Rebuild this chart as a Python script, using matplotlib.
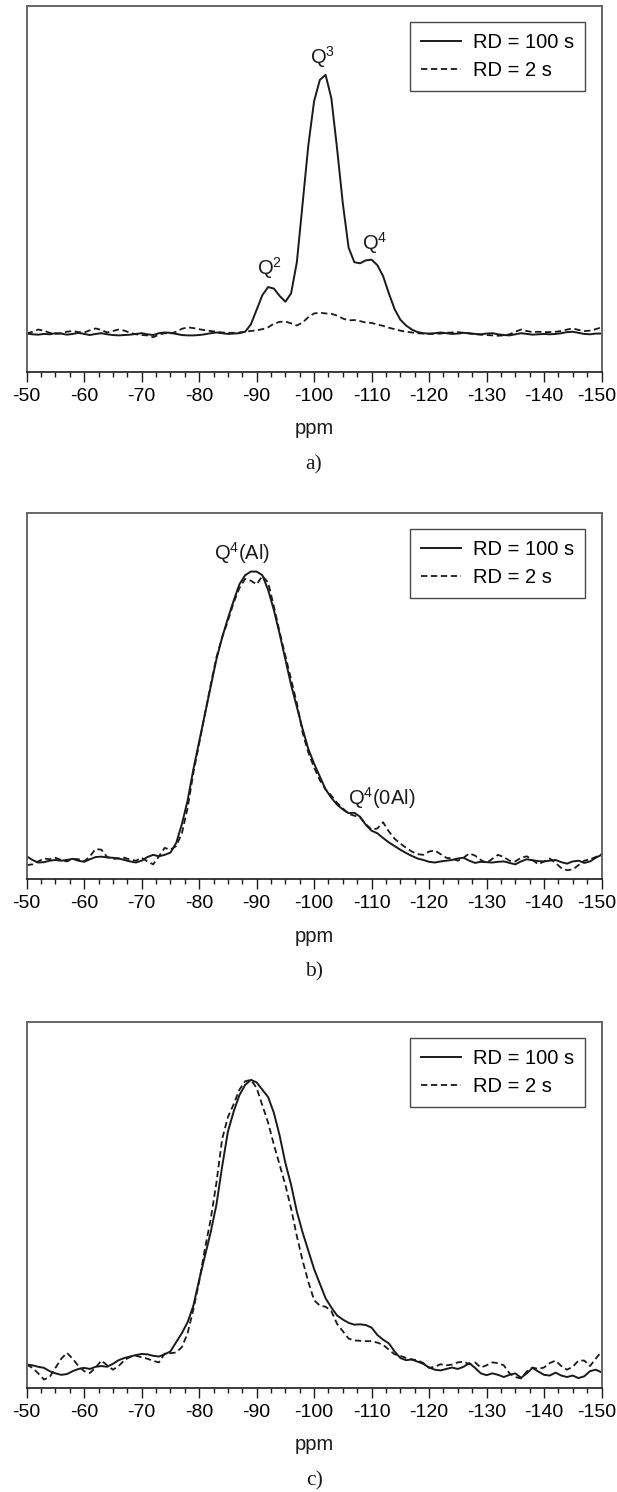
import numpy as np
import matplotlib
matplotlib.use("Agg")
import matplotlib.pyplot as plt
from matplotlib.ticker import MultipleLocator
from matplotlib.transforms import ScaledTranslation

plt.rcParams['font.family'] = ['Liberation Sans', 'DejaVu Sans']
plt.rcParams['mathtext.fontset'] = 'custom'
plt.rcParams['mathtext.rm'] = 'Liberation Sans'
plt.rcParams['mathtext.it'] = 'Liberation Sans'
plt.rcParams['axes.unicode_minus'] = False

# ---------------- data ----------------
ppm = np.arange(-50, -151, -1)  # chemical shift grid (ppm)

tick_values = [-50, -60, -70, -80, -90, -100, -110, -120, -130, -140, -150]
tick_labels = ["-50", "-60", "-70", "-80", "-90", "-100", "-110", "-120", "-130", "-140", "-150"]
series_labels = ["RD = 100 s", "RD = 2 s"]
panel_letters = ["a)", "b)", "c)"]

a_rd100 = [0.105, 0.103, 0.102, 0.104, 0.103, 0.106, 0.105, 0.102, 0.104, 0.107,
           0.104, 0.101, 0.104, 0.106, 0.103, 0.101, 0.100, 0.101, 0.102, 0.104,
           0.106, 0.103, 0.101, 0.106, 0.108, 0.107, 0.104, 0.101, 0.100, 0.100,
           0.101, 0.103, 0.106, 0.108, 0.106, 0.104, 0.105, 0.106, 0.110, 0.130,
           0.170, 0.210, 0.232, 0.228, 0.208, 0.192, 0.215, 0.300, 0.460, 0.620,
           0.740, 0.798, 0.812, 0.748, 0.610, 0.460, 0.340, 0.300, 0.297, 0.305,
           0.307, 0.292, 0.262, 0.215, 0.172, 0.143, 0.127, 0.116, 0.109, 0.106,
           0.105, 0.106, 0.108, 0.106, 0.104, 0.105, 0.107, 0.106, 0.104, 0.103,
           0.105, 0.106, 0.103, 0.101, 0.100, 0.103, 0.106, 0.104, 0.102, 0.103,
           0.104, 0.103, 0.104, 0.106, 0.109, 0.110, 0.107, 0.104, 0.103, 0.105,
           0.105]
a_rd2 = [0.105, 0.110, 0.116, 0.113, 0.107, 0.104, 0.106, 0.110, 0.112, 0.109,
         0.108, 0.114, 0.119, 0.115, 0.108, 0.112, 0.116, 0.113, 0.107, 0.103,
         0.101, 0.100, 0.095, 0.102, 0.106, 0.105, 0.110, 0.118, 0.122, 0.120,
         0.117, 0.114, 0.112, 0.110, 0.108, 0.107, 0.107, 0.108, 0.110, 0.112,
         0.114, 0.117, 0.122, 0.132, 0.137, 0.138, 0.133, 0.127, 0.135, 0.150,
         0.160, 0.162, 0.160, 0.159, 0.154, 0.146, 0.141, 0.142, 0.139, 0.135,
         0.134, 0.130, 0.126, 0.121, 0.117, 0.113, 0.110, 0.108, 0.106, 0.105,
         0.104, 0.104, 0.105, 0.107, 0.108, 0.109, 0.107, 0.105, 0.103, 0.102,
         0.101, 0.100, 0.099, 0.100, 0.103, 0.110, 0.116, 0.112, 0.109, 0.110,
         0.109, 0.109, 0.110, 0.112, 0.116, 0.119, 0.115, 0.112, 0.113, 0.117,
         0.122]

b_rd100 = [0.062, 0.052, 0.045, 0.046, 0.050, 0.052, 0.050, 0.052, 0.055, 0.050,
           0.047, 0.054, 0.060, 0.061, 0.059, 0.058, 0.056, 0.052, 0.048, 0.045,
           0.050, 0.060, 0.066, 0.062, 0.066, 0.072, 0.098, 0.150, 0.215, 0.300,
           0.375, 0.450, 0.525, 0.600, 0.660, 0.712, 0.760, 0.805, 0.830, 0.840,
           0.840, 0.830, 0.790, 0.735, 0.670, 0.600, 0.530, 0.470, 0.410, 0.355,
           0.315, 0.280, 0.245, 0.222, 0.203, 0.190, 0.180, 0.181, 0.170, 0.148,
           0.132, 0.125, 0.112, 0.100, 0.090, 0.080, 0.071, 0.063, 0.056, 0.052,
           0.047, 0.045, 0.048, 0.050, 0.052, 0.056, 0.058, 0.050, 0.044, 0.047,
           0.046, 0.045, 0.047, 0.048, 0.044, 0.040, 0.048, 0.054, 0.051, 0.049,
           0.048, 0.050, 0.052, 0.046, 0.042, 0.048, 0.050, 0.044, 0.048, 0.058,
           0.066]
b_rd2 = [0.038, 0.040, 0.048, 0.056, 0.054, 0.058, 0.052, 0.048, 0.055, 0.054,
         0.048, 0.062, 0.082, 0.080, 0.060, 0.055, 0.056, 0.058, 0.053, 0.050,
         0.058, 0.048, 0.040, 0.062, 0.085, 0.080, 0.090, 0.125, 0.195, 0.290,
         0.370, 0.450, 0.530, 0.605, 0.660, 0.705, 0.755, 0.795, 0.820, 0.815,
         0.805, 0.828, 0.810, 0.745, 0.675, 0.610, 0.545, 0.480, 0.400, 0.345,
         0.305, 0.270, 0.245, 0.228, 0.208, 0.193, 0.178, 0.173, 0.168, 0.150,
         0.135, 0.138, 0.155, 0.130, 0.110, 0.097, 0.085, 0.075, 0.068, 0.066,
         0.075, 0.078, 0.068, 0.058, 0.056, 0.050, 0.058, 0.070, 0.064, 0.052,
         0.044, 0.055, 0.066, 0.060, 0.050, 0.048, 0.058, 0.062, 0.052, 0.040,
         0.048, 0.056, 0.044, 0.030, 0.024, 0.026, 0.038, 0.050, 0.054, 0.060,
         0.068]

c_rd100 = [0.064, 0.062, 0.058, 0.055, 0.046, 0.040, 0.036, 0.038, 0.046, 0.052,
           0.055, 0.052, 0.058, 0.060, 0.058, 0.066, 0.076, 0.082, 0.086, 0.090,
           0.093, 0.092, 0.088, 0.086, 0.092, 0.100, 0.125, 0.150, 0.180, 0.225,
           0.295, 0.360, 0.425, 0.500, 0.605, 0.700, 0.755, 0.800, 0.828, 0.842,
           0.835, 0.815, 0.795, 0.752, 0.690, 0.615, 0.555, 0.482, 0.425, 0.375,
           0.325, 0.285, 0.245, 0.220, 0.198, 0.187, 0.178, 0.173, 0.174, 0.172,
           0.165, 0.145, 0.132, 0.122, 0.100, 0.082, 0.076, 0.078, 0.072, 0.066,
           0.056, 0.050, 0.048, 0.052, 0.056, 0.052, 0.058, 0.068, 0.055, 0.040,
           0.035, 0.040, 0.036, 0.030, 0.036, 0.040, 0.028, 0.040, 0.055, 0.045,
           0.036, 0.034, 0.042, 0.034, 0.030, 0.034, 0.027, 0.032, 0.046, 0.050,
           0.043]
c_rd2 = [0.064, 0.055, 0.040, 0.023, 0.030, 0.055, 0.080, 0.096, 0.080, 0.060,
         0.046, 0.041, 0.056, 0.075, 0.062, 0.050, 0.060, 0.076, 0.085, 0.088,
         0.084, 0.080, 0.074, 0.070, 0.094, 0.095, 0.097, 0.112, 0.150, 0.215,
         0.290, 0.380, 0.460, 0.560, 0.680, 0.740, 0.775, 0.815, 0.838, 0.842,
         0.820, 0.772, 0.725, 0.665, 0.610, 0.555, 0.490, 0.415, 0.348, 0.290,
         0.240, 0.225, 0.222, 0.210, 0.175, 0.155, 0.135, 0.130, 0.129, 0.128,
         0.128, 0.124, 0.118, 0.105, 0.092, 0.088, 0.082, 0.078, 0.076, 0.068,
         0.055, 0.058, 0.065, 0.062, 0.064, 0.070, 0.072, 0.065, 0.070, 0.056,
         0.062, 0.070, 0.068, 0.062, 0.040, 0.030, 0.026, 0.045, 0.056, 0.052,
         0.056, 0.068, 0.075, 0.060, 0.050, 0.058, 0.075, 0.075, 0.060, 0.080,
         0.100]

# peak annotations: (text, ppm, intensity)
annot_a = [("Q$^{\\mathrm{2}}$", -92.3, 0.285),
           ("Q$^{\\mathrm{3}}$", -101.5, 0.86),
           ("Q$^{\\mathrm{4}}$", -110.5, 0.353)]
annot_b = [("Q$^{\\mathrm{4}}$(Al)", -87.5, 0.89),
           ("Q$^{\\mathrm{4}}$(0Al)", -111.8, 0.221)]
annot_c = []

panels = [(a_rd100, a_rd2, annot_a), (b_rd100, b_rd2, annot_b), (c_rd100, c_rd2, annot_c)]

# ---------------- figure ----------------
W, H = 617, 1492
fig = plt.figure(figsize=(W / 100, H / 100), dpi=100)

ax_left = 26.7 / W
ax_width = (601.5 - 26.7) / W
ax_h_px = 366
tops_px = [6, 513, 1022]

FS = 14.5
for (solid, dashed, annots), top, letter in zip(panels, tops_px, panel_letters):
    bottom = 1 - (top + ax_h_px) / H
    ax = fig.add_axes([ax_left, bottom, ax_width, ax_h_px / H])
    l1, = ax.plot(ppm, solid, color='#1a1a1a', lw=1.4, ls='-', label=series_labels[0])
    l2, = ax.plot(ppm, dashed, color='#1a1a1a', lw=1.3, ls=(0, (3.5, 2.0)), label=series_labels[1])
    ax.set_xlim(-50, -150)
    ax.set_ylim(0, 1)
    ax.set_yticks([])
    ax.set_xticks(tick_values)
    labels = ax.set_xticklabels(tick_labels)
    ax.xaxis.set_minor_locator(MultipleLocator(2.5))
    ax.tick_params(axis='x', which='major', direction='out', length=7.5, width=1.0,
                   color='#1a1a1a', labelsize=14, pad=4)
    ax.tick_params(axis='x', which='minor', direction='out', length=3.8, width=1.0,
                   color='#1a1a1a')
    # keep the last label inside the canvas
    last = labels[-1]
    last.set_transform(last.get_transform() + ScaledTranslation(-5 / 100, 0, fig.dpi_scale_trans))
    for side in ['top', 'left', 'right']:
        ax.spines[side].set_color('#666666')
        ax.spines[side].set_linewidth(1.4)
    ax.spines['bottom'].set_color('#1a1a1a')
    ax.spines['bottom'].set_linewidth(1.2)

    for txt, x, y in annots:
        ax.text(x, y, txt, ha='center', va='center', fontsize=FS, color='#1a1a1a')

    leg = ax.legend(handles=[l1, l2], loc='upper right', fontsize=FS, frameon=True,
                    fancybox=False, shadow=False, borderaxespad=0.8, handlelength=2.0,
                    handletextpad=0.6, labelspacing=0.42, borderpad=0.55)
    leg.get_frame().set_edgecolor('#1a1a1a')
    leg.get_frame().set_linewidth(1.0)

    ax.text(0.5, -57 / ax_h_px, "ppm", transform=ax.transAxes, ha='center', va='center',
            fontsize=FS, color='#1a1a1a')
    ax.text(0.5, -93 / ax_h_px, letter, transform=ax.transAxes, ha='center', va='center',
            fontsize=FS + 1, color='#1a1a1a', family=['Liberation Serif', 'DejaVu Serif'])

fig.savefig("out.png", dpi=100)
